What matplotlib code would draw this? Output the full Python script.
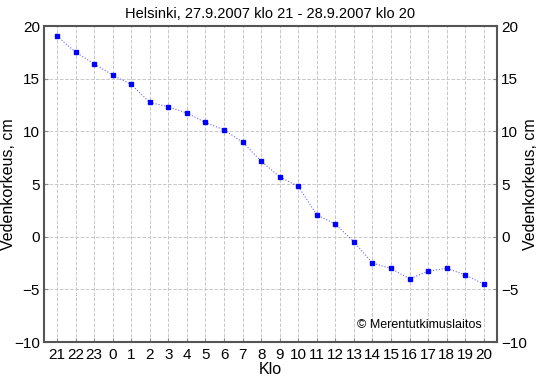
import numpy as np
from matplotlib import pyplot as plt

plt.rcParams['font.family'] = ['Liberation Sans', 'DejaVu Sans']

# tunnit 27.9. klo 21 - 28.9. klo 20
hours = ['21', '22', '23', '0', '1', '2', '3', '4', '5', '6', '7', '8',
         '9', '10', '11', '12', '13', '14', '15', '16', '17', '18', '19', '20']
level = [19.05, 17.53, 16.42, 15.35, 14.46, 12.75, 12.34, 11.74, 10.85, 10.15,
         8.98, 7.18, 5.69, 4.78, 2.08, 1.20, -0.48, -2.5, -3.01, -4.0,
         -3.27, -3.0, -3.62, -4.5]
yticks = [-10, -5, 0, 5, 10, 15, 20]

x = np.arange(1, len(hours) + 1)

fig = plt.figure(figsize=(5.4, 3.78), dpi=100)
ax = fig.add_axes([0.0815, 0.095, 0.8385, 0.836])

ax.plot(x, level, color='blue', linestyle=':', linewidth=0.8, alpha=0.6)
ax.plot(x, level, color='blue', linestyle='none', marker='s', markersize=3)

ax.set_xlim(0.3, 24.7)
ax.set_ylim(-10, 20)
ax.set_xticks(x)
ax.set_xticklabels(hours)
ax.set_yticks(yticks)

ax.grid(True, color='#c8c8c8', linestyle='--', linewidth=0.7)
ax.tick_params(axis='both', labelsize=11, length=3, color='#888888', direction='in')
ax.tick_params(axis='y', right=True, labelright=True, pad=3)
ax.tick_params(axis='x', pad=4)
for s in ax.spines.values():
    s.set_color('#555555')
    s.set_linewidth(1.5)

ax.set_title('Helsinki, 27.9.2007 klo 21 - 28.9.2007 klo 20', fontsize=10.5, pad=6)
ax.set_xlabel('Klo', fontsize=11.5, va='center')
ax.xaxis.set_label_coords(0.5, -0.088)
ax.set_ylabel('Vedenkorkeus, cm', fontsize=11.5, va='center')
ax.yaxis.set_label_coords(-0.078, 0.5)
ax.text(1.075, 0.5, 'Vedenkorkeus, cm', transform=ax.transAxes, rotation=90,
        ha='center', va='center', fontsize=11.5)

ax.text(0.967, 0.035, '\u00a9 Merentutkimuslaitos', transform=ax.transAxes,
        ha='right', va='bottom', fontsize=9)

plt.savefig('out.png')
